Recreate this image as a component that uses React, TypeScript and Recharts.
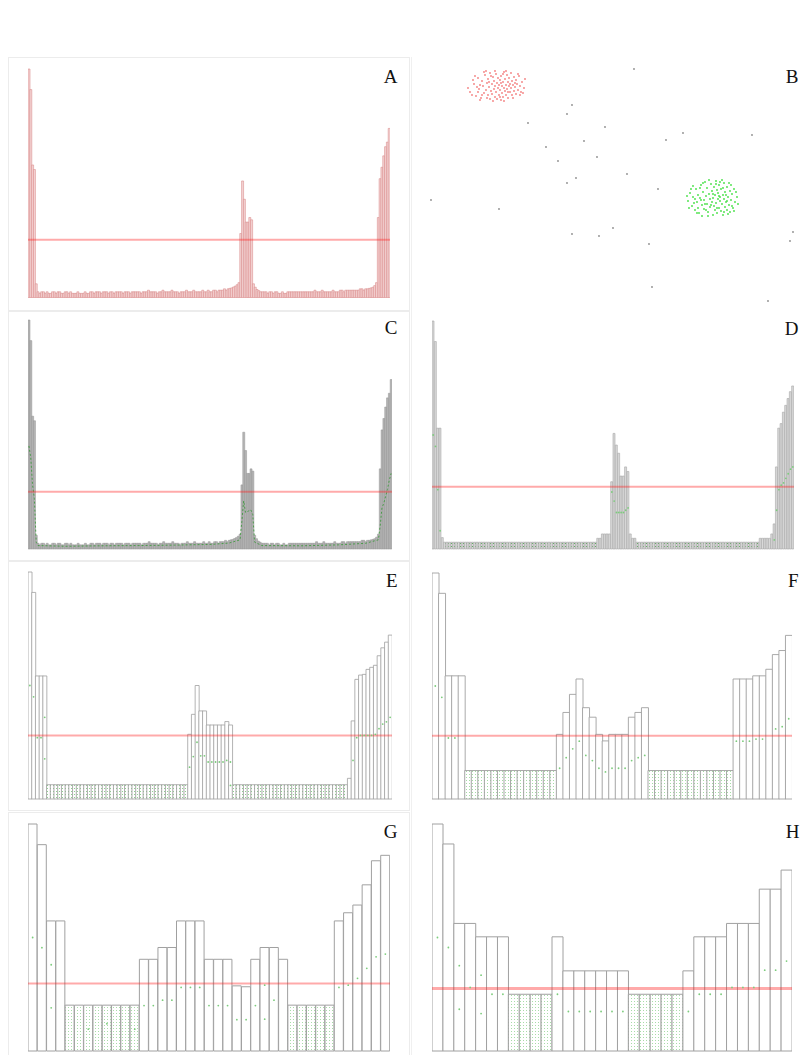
import React from 'react';
import {
  ComposedChart,
  Bar,
  Cell,
  Line,
  XAxis,
  YAxis,
  ReferenceLine,
  ScatterChart,
  Scatter,
} from 'recharts';

// ---------- DATA (percent of tallest bar) ----------
const aValues = [
  100, 91, 58, 56, 6,
  2.5, 1.8, 2.5, 2.5, 1.8, 2.5, 1.8, 1.8, 2.5, 2.5, 1.8, 2.5, 2.5, 1.8, 1.8, 2.5, 2.5, 1.8, 2.5, 1.8,
  1.8, 1.8, 2.5, 1.8, 1.8, 1.8, 2.5, 1.8, 1.8, 2.5, 2.5, 1.8, 2.5, 2.5, 2.5, 1.8, 2.5, 2.5, 2.5, 1.8,
  2.5, 2.5, 1.8, 2.5, 2.5, 2.5, 2.5, 1.8, 2.5, 2.5, 2.5, 1.8, 2.5, 2.5, 2.5, 2.5, 2.5, 1.8, 2.5, 2.5,
  2.5, 3.2, 2.5, 2.5, 2.5, 2.5, 1.8, 2.5, 2.5, 3.2, 2.5, 2.5, 2.5, 2.5, 3.2, 2.5, 2.5, 2.5, 1.8, 2.5,
  2.5, 2.5, 3.2, 2.5, 2.5, 2.5, 3.2, 2.5, 2.5, 2.5, 2.5, 3.2, 2.5, 2.5, 3.2, 2.5, 2.5, 3.2, 3.2, 2.5,
  3.2, 3.2, 3.2, 3.8, 3.2, 3.8, 4, 4.2, 4.6, 5, 5.6, 6.5,
  28, 51, 43, 33, 33, 35, 34,
  6, 4.5, 3.5, 3,
  2.5, 2.5, 2.5, 2.5, 1.8, 2.5, 2.5, 1.8, 2.5, 2.5, 1.8, 1.8, 2.5, 1.8, 1.8, 2.5, 2.5, 2.5, 2.5, 2.5,
  2.5, 2.5, 2.5, 2.5, 2.5, 2.5, 2.5, 2.5, 2.5, 2.5, 3.2, 2.5, 2.5, 2.5, 3.2, 2.5, 2.5, 2.5, 2.5, 2.5,
  3.2, 2.5, 2.5, 2.5, 3.2, 3.2, 2.5, 3.2, 3.2, 3.2, 3.2, 3.2, 3.2, 3.2, 3.2, 3.8, 3.8, 3.2, 3.8, 3.8,
  4, 4.2, 4.5, 5.2, 6.5, 35, 52, 57, 62, 66, 68, 74,
];
const aRef = 25.3;

const cValues = aValues;
const cGreen: [number, number][] = [
  [0, 45], [1, 40], [2, 28], [3, 22], [4, 3], [5, 1.5], [20, 1.2], [40, 1.4], [60, 1.5], [80, 1.7],
  [100, 2], [110, 2.6], [116, 4], [117, 12], [118, 21], [119, 16], [120, 16], [121, 17], [122, 17],
  [123, 15], [124, 3], [128, 1.5], [150, 1.4], [170, 1.8], [185, 2.5], [192, 4], [193, 10], [194, 18],
  [195, 20], [196, 23], [197, 26], [198, 30], [199, 33],
];
const cRef = 25;

const dValues = [
  100, 91, 53, 53, 5,
  3, 3, 3, 3, 3, 3, 3, 3, 3, 3, 3, 3, 3, 3, 3, 3, 3, 3, 3, 3, 3, 3, 3, 3, 3, 3, 3, 3, 3, 3, 3, 3, 3,
  3, 3, 3, 3, 3, 3, 3, 3, 3, 3, 3, 3, 3, 3, 3, 3, 3, 3, 3, 3, 3, 3, 3, 3, 3, 3, 3, 3, 3, 3, 3, 3, 3,
  4.7, 4.7, 6.6, 6.6, 6.6, 6.6,
  29.5, 50.7, 45.6, 42, 32, 32, 36, 34,
  6.6, 4.7, 4.7,
  3, 3, 3, 3, 3, 3, 3, 3, 3, 3, 3, 3, 3, 3, 3, 3, 3, 3, 3, 3, 3, 3, 3, 3, 3, 3, 3,
  3, 3, 3, 3, 3, 3, 3, 3, 3, 3, 3, 3, 3, 3, 3, 3, 3, 3, 3, 3, 3, 3, 3, 3, 3, 3,
  4.7, 4.7, 4.7, 4.7, 4.7, 6.6, 11,
  36, 53, 55, 60, 63, 66, 69, 71.5,
];
const dGreen: [number, number][] = [
  [0, 50], [1, 45], [2, 26], [3, 8], [77, 25], [78, 21], [79, 16], [80, 16], [81, 16], [82, 16],
  [83, 17], [84, 18], [147, 4], [148, 17], [149, 26], [150, 28], [151, 29], [152, 31], [153, 33],
  [154, 35], [155, 36],
];
const dRef = 27.3;

const eValues = [
  100, 91, 54.2, 54.2, 54.2,
  6.3, 6.3, 6.3, 6.3, 6.3, 6.3, 6.3, 6.3, 6.3, 6.3, 6.3, 6.3, 6.3, 6.3, 6.3, 6.3, 6.3, 6.3, 6.3,
  6.3, 6.3, 6.3, 6.3, 6.3, 6.3, 6.3, 6.3, 6.3, 6.3, 6.3, 6.3, 6.3, 6.3, 6.3, 6.3, 6.3, 6.3, 6.3,
  28.5, 37.3, 50, 38.8, 38.8, 32.6, 32.6, 32.6, 32.6, 32.6, 34.1, 32.6,
  6.3, 6.3, 6.3, 6.3, 6.3, 6.3, 6.3, 6.3, 6.3, 6.3, 6.3, 6.3, 6.3, 6.3, 6.3, 6.3, 6.3, 6.3, 6.3,
  6.3, 6.3, 6.3, 6.3, 6.3, 6.3, 6.3, 6.3, 6.3, 6.3, 6.3, 6.3,
  9.1, 34.4, 52.7, 54.6, 54.9, 57.1, 58, 58.9, 63.1, 66.6, 69.1, 72.2,
];
const eGreen: [number, number][] = [
  [0, 50], [1, 45], [2, 27], [3, 27], [4, 36], [43, 14], [44, 18.7], [45, 25], [46, 19], [47, 19],
  [48, 16.3], [49, 16.3], [50, 16.3], [51, 16.3], [52, 16.3], [53, 17], [54, 16.3], [87, 17], [88, 27],
  [89, 28], [90, 28], [91, 28], [92, 28], [93, 28.5], [94, 31], [95, 33], [96, 34], [97, 36],
];
const eGreen2: [number, number][] = [[4, 17.7], [54, 6]];
const eRef = 28;

const fValues = [
  100, 91, 54.5, 54.5, 54.5,
  12.6, 12.6, 12.6, 12.6, 12.6, 12.6, 12.6, 12.6, 12.6, 12.6, 12.6, 12.6, 12.6, 12.6,
  28.6, 38.3, 46.3, 53.1, 40.4, 36.2, 28.6, 25.7, 28.6, 28.6, 28.6, 36.2, 38.3, 40.4,
  12.6, 12.6, 12.6, 12.6, 12.6, 12.6, 12.6, 12.6, 12.6, 12.6, 12.6, 12.6, 12.6,
  53.1, 53.1, 53.1, 54.5, 54.5, 57.4, 63.9, 65.7, 72.4,
];
const fGreen: [number, number][] = [
  [0, 50], [1, 45], [2, 27], [3, 27], [19, 13.6], [20, 18.3], [21, 22.2], [22, 25.6], [23, 19.3],
  [24, 17], [25, 13.6], [26, 12], [27, 13.6], [28, 13.6], [29, 13.6], [30, 17], [31, 18.3], [32, 19.3],
  [46, 25.6], [47, 25.6], [48, 25.6], [49, 26.5], [50, 26.5], [52, 31], [53, 32], [54, 35.5],
];
const fRef = 28;

const gValues = [
  100, 90.9, 57.3, 57.3,
  20.2, 20.2, 20.2, 20.2, 20.2, 20.2, 20.2, 20.2,
  40.4, 40.4, 45.6, 45.6, 57.3, 57.3, 57.3, 40.4, 40.4, 40.4, 28.7, 28.3, 40.4, 45.6, 45.6, 40.4,
  20.2, 20.2, 20.2, 20.2, 20.2,
  57.3, 60.9, 64.3, 73.2, 83.8, 86.2,
];
const gGreen: [number, number][] = [
  [0, 50], [1, 45.5], [2, 38], [6, 9.6], [11, 9.6], [12, 20], [13, 20], [14, 22.4], [15, 22.4],
  [16, 28], [17, 28], [18, 28], [19, 20], [20, 20], [21, 20], [22, 13.8], [23, 13.8], [24, 20],
  [25, 29], [26, 22.4], [33, 28], [34, 29], [35, 32], [36, 36.4], [37, 41.5], [38, 42.7],
];
const gGreen2: [number, number][] = [[2, 19], [25, 14], [8, 12]];
const gRef = 29.7;

const hValues = [
  100, 91.2, 56.2, 56.2, 50.3, 50.3, 50.3,
  25, 25, 25, 25,
  50.3,
  35.3, 35.3, 35.3, 35.3, 35.3, 35.3,
  25, 25, 25, 25, 25,
  35.3, 50.3, 50.3, 50.3, 56.2, 56.2, 56.2, 71.3, 71.3, 79.7,
];
const hGreen: [number, number][] = [
  [0, 50], [1, 45.6], [2, 37.6], [3, 28], [4, 33.4], [5, 25], [6, 25], [11, 25], [12, 17.4], [13, 17.4],
  [14, 17.4], [15, 17.4], [16, 17.4], [17, 17.4], [23, 17.4], [24, 25], [25, 25], [26, 25], [27, 28],
  [28, 28], [29, 28], [30, 35.6], [31, 35.6], [32, 39.6],
];
const hGreen2: [number, number][] = [[2, 18.4], [4, 16.5]];
const hRef = 27.5;

// Scatter panel B (data units: 0..393 horizontally, 0..255 vertically)
const bRedCenter = [88, 31];
const bRedOffsets: [number, number][] = [
  [-28, 6], [-24, -2], [-22, 10], [-20, -8], [-19, 3], [-17, 12], [-16, -5], [-15, 0], [-14, 7], [-13, -11],
  [-12, 4], [-11, -3], [-10, 9], [-10, -7], [-9, 1], [-8, 13], [-8, -13], [-7, 5], [-6, -2], [-6, 8],
  [-5, -9], [-4, 3], [-4, -5], [-3, 11], [-3, 0], [-2, -12], [-2, 6], [-1, -3], [0, 2], [0, -8],
  [1, 9], [1, -1], [2, -6], [2, 4], [3, 14], [3, -10], [4, 0], [4, 7], [5, -4], [5, 11],
  [6, -14], [6, 2], [7, -7], [7, 5], [8, -1], [8, 9], [9, -11], [9, 3], [10, -4], [10, 12],
  [11, 0], [11, -8], [12, 6], [13, -13], [13, 2], [14, -5], [14, 9], [15, -1], [16, 5], [16, -9],
  [17, 1], [18, -6], [18, 8], [19, -2], [20, 4], [21, -10], [22, 0], [23, 6], [24, -4], [26, 2],
  [27, -7], [-25, -6], [-21, 1], [-18, -1], [-12, -15], [-5, 15], [6, 15], [12, -2], [-9, -4], [3, -3],
  [-26, 9], [-23, -10], [-18, 14], [-14, -14], [-1, 13], [8, -15], [15, 12], [20, -12], [25, 7], [-30, 2],
  [-16, 9], [-7, -10], [2, 11], [10, 6], [17, -3], [-11, 12], [-3, -15], [22, 9], [-20, 6], [5, -12],
];
const bGreenCenter = [303, 143];
const bGreenOffsets: [number, number][] = [
  [-25, 3], [-23, -5], [-21, 8], [-20, -1], [-18, 12], [-17, -9], [-16, 4], [-15, -3], [-14, 15], [-13, 0],
  [-12, -13], [-11, 7], [-10, -6], [-9, 2], [-9, 11], [-8, -16], [-7, -2], [-6, 6], [-6, -10], [-5, 14],
  [-4, -4], [-3, 1], [-3, 9], [-2, -14], [-1, 4], [-1, -7], [0, 17], [0, 0], [1, -11], [1, 8],
  [2, -3], [2, 12], [3, -17], [3, 5], [4, -8], [4, 15], [5, 1], [5, -5], [6, 10], [6, -13],
  [7, 3], [7, -1], [8, -9], [8, 13], [9, 6], [10, -3], [10, 17], [11, -15], [11, 1], [12, 9],
  [12, -6], [13, 4], [14, -11], [14, 12], [15, -1], [16, 7], [17, -7], [17, 14], [18, 2], [19, -4],
  [20, 10], [21, -9], [22, 4], [24, -1], [25, 6], [-22, -9], [-19, 5], [-11, 18], [-4, -18], [9, -18],
  [15, 16], [-15, 10], [-7, 12], [0, -4], [6, -2], [13, -3], [-12, 2], [19, 8],
  [-24, 10], [-20, -12], [-13, -10], [-5, 18], [3, -14], [11, 14], [18, -13], [23, -6], [-16, 15], [-2, 7],
  [7, -16], [14, 3], [-10, -15], [-18, 1], [21, 13], [-8, 6], [4, 10], [10, -10], [-26, -2], [16, -15],
];
const bGrayPoints: [number, number][] = [
  [224, 14], [162, 50], [157, 59], [118, 68], [195, 72], [273, 78], [342, 80], [256, 85], [174, 86],
  [136, 92], [187, 102], [148, 106], [217, 119], [166, 123], [157, 128], [248, 134], [21, 145],
  [89, 154], [203, 173], [162, 179], [189, 181], [239, 189], [383, 177], [380, 186], [242, 232], [358, 246],
];

const labels = ['A', 'B', 'C', 'D', 'E', 'F', 'G', 'H'];

// ---------- helpers ----------
type Row = { i: number; v: number; g?: number; g2?: number };

function buildData(values: number[], greens?: [number, number][], greens2?: [number, number][]): Row[] {
  const d: Row[] = values.map((v, i) => ({ i, v }));
  (greens || []).forEach(([i, val]) => {
    if (d[i]) d[i].g = val;
  });
  (greens2 || []).forEach(([i, val]) => {
    if (d[i]) d[i].g2 = val;
  });
  return d;
}

type PanelProps = {
  left: number;
  top: number;
  width: number;
  height: number;
  values: number[];
  greens?: [number, number][];
  greens2?: [number, number][];
  refY: number;
  refWidth?: number;
  fill: string;
  stroke: string;
  strokeWidth: number;
  patternId?: string;
  patternBg?: string;
  patternDot?: string;
  greenLine?: boolean;
};

function BarPanel(p: PanelProps) {
  const data = buildData(p.values, p.greens, p.greens2);
  const min = Math.min(...p.values);
  const greenDot = { r: 0.9, fill: '#7ccc7c', stroke: 'none' };
  return (
    <div style={{ position: 'absolute', left: p.left, top: p.top - 1, width: p.width, height: p.height + 2 }}>
      <ComposedChart
        width={p.width}
        height={p.height + 2}
        data={data}
        margin={{ top: 1, right: 0, bottom: 1, left: 0 }}
        barCategoryGap={0}
        barGap={0}
      >
        <defs>
          {p.patternId ? (
            <pattern id={p.patternId} patternUnits="userSpaceOnUse" width={3} height={3}>
              <rect x={0} y={0} width={3} height={3} fill={p.patternBg} />
              <rect x={1} y={1} width={1} height={1} fill={p.patternDot} />
            </pattern>
          ) : null}
        </defs>
        <XAxis dataKey="i" hide />
        <YAxis hide domain={[0, 100]} />
        <Bar dataKey="v" isAnimationActive={false} stroke={p.stroke} strokeWidth={p.strokeWidth}>
          {data.map((d, i) => (
            <Cell
              key={i}
              fill={p.patternId && d.v === min ? `url(#${p.patternId})` : p.fill}
            />
          ))}
        </Bar>
        {p.greenLine ? (
          <Line
            dataKey="g"
            isAnimationActive={false}
            stroke="#3f9a3f"
            strokeWidth={0.9}
            strokeDasharray="2 2"
            dot={false}
            activeDot={false}
            connectNulls
          />
        ) : (
          <Line
            dataKey="g"
            isAnimationActive={false}
            stroke="none"
            dot={greenDot}
            activeDot={false}
          />
        )}
        <Line
          dataKey="g2"
          isAnimationActive={false}
          stroke="none"
          dot={greenDot}
          activeDot={false}
        />
        <ReferenceLine y={p.refY} stroke="#ff2020" strokeOpacity={0.38} strokeWidth={p.refWidth || 2} />
      </ComposedChart>
    </div>
  );
}

function makeDot(color: string, r: number) {
  return (props: any) => <circle cx={props.cx} cy={props.cy} r={r} fill={color} />;
}

function ScatterPanel() {
  const red = bRedOffsets.map(([dx, dy]) => ({ x: bRedCenter[0] + dx, y: bRedCenter[1] + dy }));
  const green = bGreenOffsets.map(([dx, dy]) => ({ x: bGreenCenter[0] + dx, y: bGreenCenter[1] + dy }));
  const gray = bGrayPoints.map(([x, y]) => ({ x, y }));
  return (
    <div style={{ position: 'absolute', left: 410, top: 55, width: 393, height: 255 }}>
      <ScatterChart width={393} height={255} margin={{ top: 0, right: 0, bottom: 0, left: 0 }}>
        <XAxis type="number" dataKey="x" domain={[0, 393]} hide />
        <YAxis type="number" dataKey="y" domain={[0, 255]} reversed hide />
        <Scatter data={gray} isAnimationActive={false} shape={makeDot('#8c8c8c', 0.9)} />
        <Scatter data={red} isAnimationActive={false} shape={makeDot('#f47f7f', 0.9)} />
        <Scatter data={green} isAnimationActive={false} shape={makeDot('#44e044', 0.9)} />
      </ScatterChart>
    </div>
  );
}

export default function App() {
  const labelPos: [number, number, string][] = [
    [397.5, 83, labels[0]],
    [798.5, 82.5, labels[1]],
    [397.5, 334, labels[2]],
    [798.5, 335, labels[3]],
    [397.5, 587, labels[4]],
    [798.5, 587, labels[5]],
    [397.5, 837.5, labels[6]],
    [799.5, 837.5, labels[7]],
  ];
  return (
    <div style={{ position: 'absolute', left: 0, top: 0, width: 803, height: 1055, background: '#fff', overflow: 'hidden' }}>
      <svg width={803} height={1055} style={{ position: 'absolute', left: 0, top: 0 }}>
        <rect x={8.5} y={57.5} width={401} height={253} fill="none" stroke="#ececec" />
        <rect x={8.5} y={311.5} width={401} height={249} fill="none" stroke="#ececec" />
        <rect x={8.5} y={561.5} width={401} height={249} fill="none" stroke="#ececec" />
        <rect x={8.5} y={812.5} width={401} height={250} fill="none" stroke="#ececec" />
        <line x1={411.5} y1={57} x2={411.5} y2={1055} stroke="#f0f0f0" />
      </svg>
      <BarPanel left={28} top={68.5} width={362} height={228.5} values={aValues} refY={aRef}
        fill="#f4d4d4" stroke="#d88888" strokeWidth={0.55} />
      <ScatterPanel />
      <BarPanel left={28} top={320} width={364} height={229} values={cValues} greens={cGreen} refY={cRef}
        fill="#b5b5b5" stroke="#959595" strokeWidth={0.5} greenLine />
      <BarPanel left={432} top={321} width={362} height={228} values={dValues} greens={dGreen} refY={dRef}
        fill="#d9d9d9" stroke="#a6a6a6" strokeWidth={0.6} patternId="patD" patternBg="#d9d9d9" patternDot="#5fae5f" />
      <BarPanel left={28} top={572} width={364} height={227} values={eValues} greens={eGreen} greens2={eGreen2} refY={eRef}
        fill="#ffffff" stroke="#a0a0a0" strokeWidth={0.8} patternId="patE" patternBg="#ffffff" patternDot="#8fd08f" />
      <BarPanel left={432} top={573} width={360} height={226} values={fValues} greens={fGreen} refY={fRef}
        fill="#ffffff" stroke="#a0a0a0" strokeWidth={0.9} patternId="patF" patternBg="#ffffff" patternDot="#a5dba5" />
      <BarPanel left={28} top={824} width={362} height={227} values={gValues} greens={gGreen} greens2={gGreen2} refY={gRef}
        fill="#ffffff" stroke="#a0a0a0" strokeWidth={1} patternId="patG" patternBg="#ffffff" patternDot="#a8dca8" />
      <BarPanel left={432} top={824} width={360} height={227} values={hValues} greens={hGreen} greens2={hGreen2} refY={hRef} refWidth={3}
        fill="#ffffff" stroke="#a0a0a0" strokeWidth={1} patternId="patH" patternBg="#ffffff" patternDot="#a8dca8" />
      <svg width={803} height={1055} style={{ position: 'absolute', left: 0, top: 0, pointerEvents: 'none' }}>
        {labelPos.map(([x, y, t]) => (
          <text key={t} x={x} y={y} textAnchor="end" fontFamily="'Liberation Serif', 'Times New Roman', serif" fontSize={19} fill="#111">
            {t}
          </text>
        ))}
      </svg>
    </div>
  );
}
